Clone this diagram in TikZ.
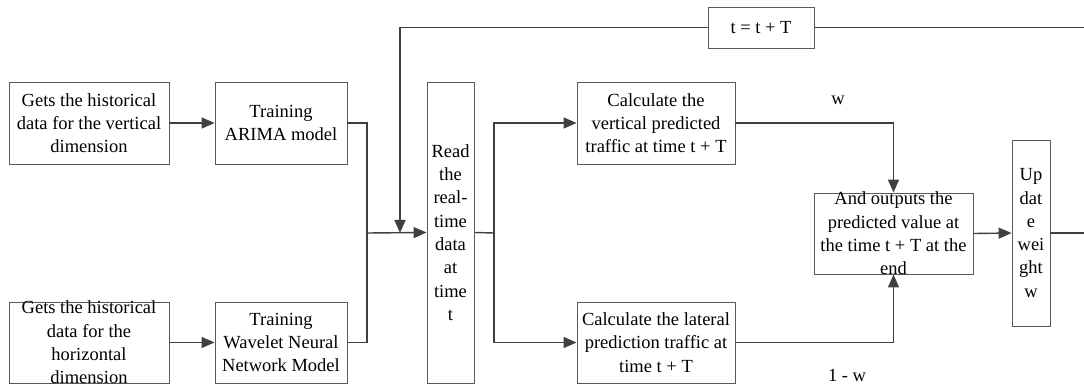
\documentclass[tikz,border=0pt]{standalone}
\usepackage{fontspec}
\setmainfont{Liberation Serif}
\usetikzlibrary{arrows.meta}
\begin{document}
\begin{tikzpicture}[x=1pt,y=-1pt,
  box/.style={draw=black!65,line width=0.9pt,rectangle,inner sep=0pt},
  txt/.style={align=center,inner sep=0pt,font=\fontsize{18.5}{23.3}\selectfont,text=black},
  conn/.style={draw=black!75,line width=1.4pt},
  arr/.style={conn,-{Triangle[length=13pt,width=11pt]}}]
\useasboundingbox (0,0) rectangle (1084,390);
% boxes
\node[box,minimum width=160pt,minimum height=82pt] (a) at (89,123) {};
\node[txt] (at) at (a) {Gets the historical\\data for the vertical\\dimension};
\node[box,minimum width=132pt,minimum height=82pt] (b) at (281,123) {};
\node[txt] (bt) at (b) {Training\\ARIMA model};
\node[box,minimum width=160pt,minimum height=81pt] (c) at (89,342.5) {};
\node[txt] (ct) at (c) {Gets the historical\\data for the\\horizontal\\dimension};
\node[box,minimum width=132pt,minimum height=81pt] (d) at (281,342.5) {};
\node[txt] (dt) at (d) {Training\\Wavelet Neural\\Network Model};
\node[box,minimum width=47pt,minimum height=301pt] (r) at (450.5,232.5) {};
\node[txt] (rt) at (r) {Read\\the\\real-\\time\\data\\at\\time\\t};
\node[box,minimum width=158pt,minimum height=82pt] (e) at (656,123) {};
\node[txt] (et) at (e) {Calculate the\\vertical predicted\\traffic at time t + T};
\node[box,minimum width=158pt,minimum height=81pt] (f) at (656,342.5) {};
\node[txt] (ft) at (f) {Calculate the lateral\\prediction traffic at\\time t + T};
\node[box,minimum width=159pt,minimum height=81pt] (g) at (893.5,233.5) {};
\node[txt] (gt) at (g) {And outputs the\\predicted value at\\the time t + T at the\\end};
\node[box,minimum width=38pt,minimum height=186pt] (h) at (1031,233) {};
\node[txt] (ht) at (h) {Up\\dat\\e\\wei\\ght\\w};
\node[box,minimum width=106pt,minimum height=41pt] (tb) at (761,27.5) {};
\node[txt] (tbt) at (tb) {t = t + T};
% labels
\node[txt] (lw) at (838,100) {w};
\node[txt] (l1w) at (847,375) {1 - w};
% coordinates
\coordinate (j1) at (367,233);
\coordinate (top) at (400,27.5);
\coordinate (fb) at (400,233);
\coordinate (j2) at (494,233);
\coordinate (redge) at (1084,27.5);
\coordinate (hedge) at (1084,233);
% connectors
\draw[arr] (a) -- (b);
\draw[arr] (c) -- (d);
\draw[conn] (b.east) -| (j1);
\draw[conn] (d.east) -| (j1);
\draw[arr] (j1) -- (r.west);
\draw[conn] (tb.west) -- (top);
\draw[arr] (top) -- (fb);
\draw[conn] (tb.east) -- (redge);
\draw[conn] (r.east) -- (j2);
\draw[arr] (j2) |- (e.west);
\draw[arr] (j2) |- (f.west);
\draw[arr] (e.east) -| (g.north);
\draw[arr] (f.east) -| (g.south);
\draw[arr] (g.east) -- (h.west);
\draw[conn] (h.east) -- (hedge);
\end{tikzpicture}
\end{document}
